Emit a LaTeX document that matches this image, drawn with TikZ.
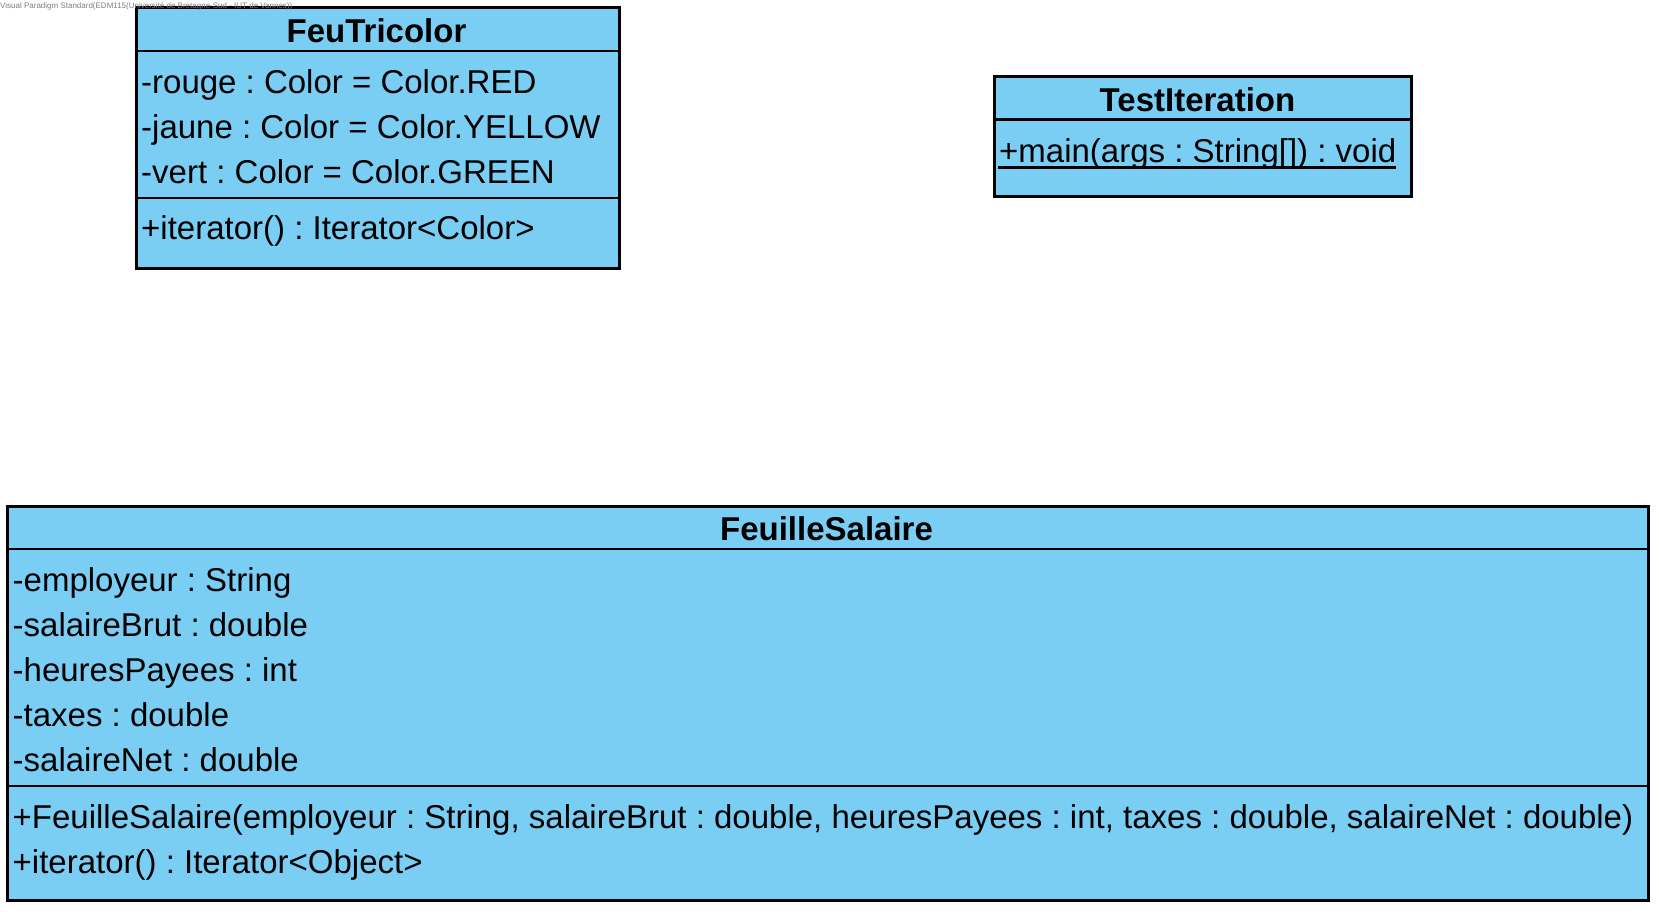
\documentclass[tikz,border=0pt]{standalone}
\usepackage{fontspec}
\setmainfont{Liberation Sans}
\definecolor{umlfill}{HTML}{7ACEF4}
\definecolor{wmgray}{HTML}{808080}
\tikzset{
  classbox/.style={draw=black, fill=umlfill, line width=2.8pt, inner sep=0pt, anchor=north west},
  sepline/.style={draw=black, line width=2.8pt},
  member/.style={anchor=base west, inner sep=0pt, font=\fontsize{33}{36}\selectfont},
  classtitle/.style={anchor=base, inner sep=0pt, font=\fontsize{33}{36}\selectfont\bfseries},
  watermark/.style={anchor=base west, inner sep=0pt, text=wmgray, font=\fontsize{8}{9}\selectfont},
}
\begin{document}
\frenchspacing
\begin{tikzpicture}[x=1pt,y=-1pt]
\useasboundingbox[fill=white] (0,0) rectangle (1659,912);

% FeuTricolor
\node[classbox, minimum width=483pt, minimum height=261pt] (feu) at (135,6) {};
\draw[sepline] (feu.west |- 0,51) -- (feu.east |- 0,51);
\draw[sepline] (feu.west |- 0,198) -- (feu.east |- 0,198);
\node[classtitle] (feutitle) at (376.5,42.5) {FeuTricolor};
\node[member] (rouge) at (141,94) {-rouge : Color = Color.RED};
\node[member] (jaune) at (141,139) {-jaune : Color = Color.YELLOW};
\node[member] (vert) at (141,184) {-vert : Color = Color.GREEN};
\node[member] (feuiter) at (141,240) {+iterator() : Iterator<Color>};

% TestIteration
\node[classbox, minimum width=417pt, minimum height=120pt] (test) at (993,75) {};
\draw[sepline] (test.west |- 0,119.5) -- (test.east |- 0,119.5);
\node[classtitle] (testtitle) at (1197.5,112) {TestIteration};
\node[member] (mainop) at (999,163) {+main(args : String[]) : void};
\draw[line width=2.2pt] ([xshift=-1pt,yshift=-4.5pt]mainop.base west) -- ([yshift=-4.5pt]mainop.base east);

% FeuilleSalaire
\node[classbox, minimum width=1641pt, minimum height=394pt] (fs) at (6,505) {};
\draw[sepline] (fs.west |- 0,549) -- (fs.east |- 0,549);
\draw[sepline] (fs.west |- 0,786) -- (fs.east |- 0,786);
\node[classtitle] (fstitle) at (826.5,540) {FeuilleSalaire};
\node[member] (employeur) at (12.5,591) {-employeur : String};
\node[member] (brut) at (12.5,636) {-salaireBrut : double};
\node[member] (heures) at (12.5,681) {-heuresPayees : int};
\node[member] (taxes) at (12.5,726) {-taxes : double};
\node[member] (net) at (12.5,771) {-salaireNet : double};
\node[member] (ctor) at (12.5,828) {+FeuilleSalaire(employeur : String, salaireBrut : double, heuresPayees : int, taxes : double, salaireNet : double)};
\node[member] (fsiter) at (12.5,873) {+iterator() : Iterator<Object>};

% watermark
\node[watermark] (wm) at (0,9) {Visual Paradigm Standard(EDM115(Université de Bretagne-Sud - IUT de Vannes))};
\end{tikzpicture}
\end{document}
